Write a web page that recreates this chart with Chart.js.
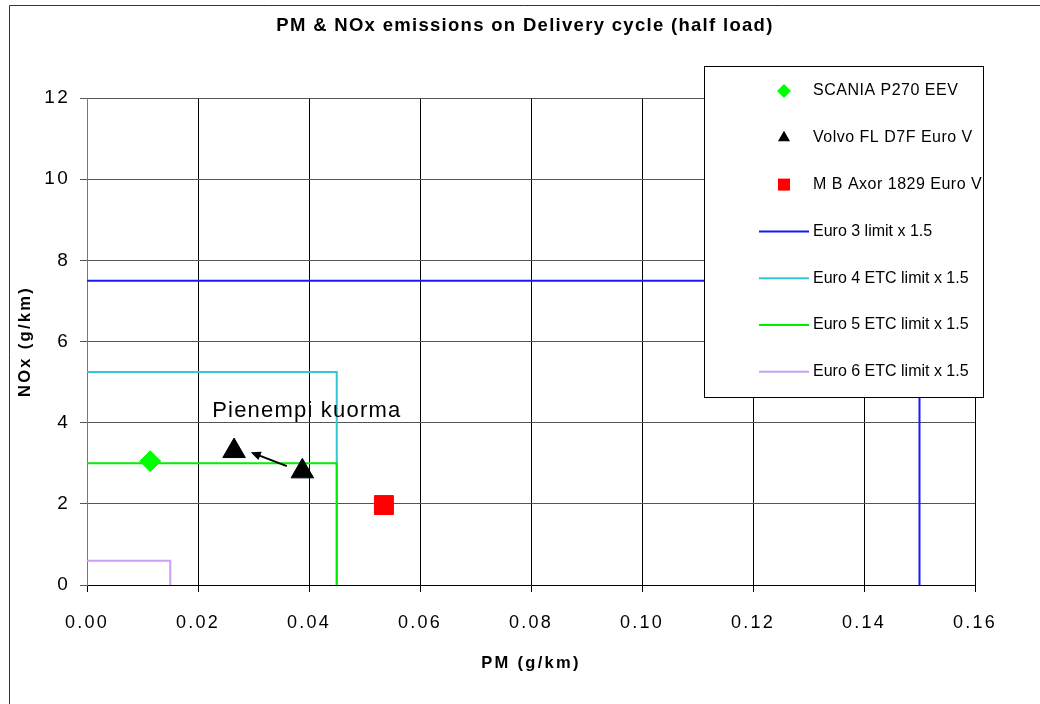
<!DOCTYPE html>
<html>
<head>
<meta charset="utf-8">
<script src="https://cdn.jsdelivr.net/npm/chart.js@4.4.1/dist/chart.umd.min.js"></script>
<style>
  html, body { margin: 0; padding: 0; background: #fff; }
  #wrap { width: 1040px; height: 704px; position: relative; }
</style>
</head>
<body>
<div id="wrap"><canvas id="chart"></canvas></div>
<script>
// --- data ---
const chartTitle = 'PM & NOx emissions on Delivery cycle (half load)';
const xTitle = 'PM (g/km)';
const yTitle = 'NOx (g/km)';

const xMin = 0, xMax = 0.16, xStep = 0.02;
const yMin = 0, yMax = 12, yStep = 2;

const scaniaLabel = 'SCANIA P270 EEV';
const scaniaPm = [0.0114];
const scaniaNox = [3.05];

const volvoLabel = 'Volvo FL D7F Euro V';
const volvoPm = [0.0265, 0.0388];
const volvoNox = [3.3, 2.8];

const mbLabel = 'M B Axor 1829 Euro V';
const mbPm = [0.0535];
const mbNox = [1.97];

// limit lines (NOx horizontal then PM vertical)
const euro3Label = 'Euro 3 limit x 1.5';
const euro3Pm = [0, 0.15, 0.15];
const euro3Nox = [7.5, 7.5, 0];

const euro4Label = 'Euro 4 ETC limit x 1.5';
const euro4Pm = [0, 0.045, 0.045];
const euro4Nox = [5.25, 5.25, 0];

const euro5Label = 'Euro 5 ETC limit x 1.5';
const euro5Pm = [0, 0.045, 0.045];
const euro5Nox = [3.0, 3.0, 0];

const euro6Label = 'Euro 6 ETC limit x 1.5';
const euro6Pm = [0, 0.015, 0.015];
const euro6Nox = [0.6, 0.6, 0];

// annotation
const noteText = 'Pienempi kuorma';
const notePos = [0.0396, 4.3];
const arrowFrom = [0.036, 2.93];
const arrowTo = [0.0295, 3.27];

function toPoints(xs, ys) {
    return xs.map((x, i) => ({ x: x, y: ys[i] }));
}

const FONT = 'Arial, "Liberation Sans", sans-serif';

// order: lower number is painted on top
const datasets = [
    { label: scaniaLabel, data: toPoints(scaniaPm, scaniaNox), pointStyle: 'rectRot', pointRadius: 10.5,
      backgroundColor: '#00ff00', borderColor: '#00ff00', showLine: false, legendKind: 'point', order: 0 },
    { label: volvoLabel, data: toPoints(volvoPm, volvoNox), pointStyle: 'triangle', pointRadius: 13,
      backgroundColor: '#000000', borderColor: '#000000', showLine: false, legendKind: 'point', order: 0 },
    { label: mbLabel, data: toPoints(mbPm, mbNox), pointStyle: 'rect', pointRadius: 13.4,
      backgroundColor: '#ff0000', borderColor: '#ff0000', showLine: false, legendKind: 'point', order: 0 },
    { label: euro3Label, data: toPoints(euro3Pm, euro3Nox), showLine: true, pointRadius: 0,
      borderColor: '#1a1aee', borderWidth: 2, legendKind: 'line', order: 2 },
    { label: euro4Label, data: toPoints(euro4Pm, euro4Nox), showLine: true, pointRadius: 0,
      borderColor: '#33c6d6', borderWidth: 2, legendKind: 'line', order: 2 },
    { label: euro5Label, data: toPoints(euro5Pm, euro5Nox), showLine: true, pointRadius: 0,
      borderColor: '#00ee00', borderWidth: 2, legendKind: 'line', order: 1 },
    { label: euro6Label, data: toPoints(euro6Pm, euro6Nox), showLine: true, pointRadius: 0,
      borderColor: '#c8a0f5', borderWidth: 2, legendKind: 'line', order: 1 }
];

function markerPath(ctx, style, x, y, r) {
    ctx.beginPath();
    if (style === 'rectRot') {
        ctx.moveTo(x, y - r); ctx.lineTo(x + r, y); ctx.lineTo(x, y + r); ctx.lineTo(x - r, y);
    } else if (style === 'triangle') {
        ctx.moveTo(x, y - r); ctx.lineTo(x + r * 0.866, y + r / 2); ctx.lineTo(x - r * 0.866, y + r / 2);
    } else {
        const s = r * Math.SQRT1_2;
        ctx.rect(x - s, y - s, 2 * s, 2 * s);
    }
    ctx.closePath();
}

const decorPlugin = {
    id: 'decor',
    beforeDraw(chart) {
        const ctx = chart.ctx;
        ctx.save();
        ctx.fillStyle = '#fff';
        ctx.fillRect(0, 0, chart.width, chart.height);
        // outer frame of the chart
        ctx.strokeStyle = '#333';
        ctx.lineWidth = 1;
        ctx.beginPath();
        ctx.moveTo(9.5, chart.height);
        ctx.lineTo(9.5, 5.5);
        ctx.lineTo(chart.width, 5.5);
        ctx.stroke();
        ctx.restore();
        // the original axis text is widely spaced
        ctx.letterSpacing = '2.3px';
    },
    beforeDatasetsDraw(chart) {
        chart.ctx.letterSpacing = '0px';
    },
    afterDatasetsDraw(chart) {
        const ctx = chart.ctx;
        const xs = chart.scales.x, ys = chart.scales.y;
        ctx.save();
        // arrow
        const x1 = xs.getPixelForValue(arrowFrom[0]), y1 = ys.getPixelForValue(arrowFrom[1]);
        const x2 = xs.getPixelForValue(arrowTo[0]), y2 = ys.getPixelForValue(arrowTo[1]);
        const ang = Math.atan2(y2 - y1, x2 - x1);
        ctx.strokeStyle = '#000';
        ctx.fillStyle = '#000';
        ctx.lineWidth = 2;
        ctx.beginPath();
        ctx.moveTo(x1, y1);
        ctx.lineTo(x2 - 6 * Math.cos(ang), y2 - 6 * Math.sin(ang));
        ctx.stroke();
        ctx.beginPath();
        ctx.moveTo(x2, y2);
        ctx.lineTo(x2 - 10 * Math.cos(ang) + 4.5 * Math.sin(ang), y2 - 10 * Math.sin(ang) - 4.5 * Math.cos(ang));
        ctx.lineTo(x2 - 10 * Math.cos(ang) - 4.5 * Math.sin(ang), y2 - 10 * Math.sin(ang) + 4.5 * Math.cos(ang));
        ctx.closePath();
        ctx.fill();
        // text note
        ctx.font = '22px ' + FONT;
        ctx.letterSpacing = '1.2px';
        ctx.textAlign = 'center';
        ctx.textBaseline = 'middle';
        ctx.fillText(noteText, xs.getPixelForValue(notePos[0]), ys.getPixelForValue(notePos[1]));
        ctx.restore();
    },
    afterDraw(chart) {
        const ctx = chart.ctx;
        ctx.save();
        // chart title
        ctx.fillStyle = '#000';
        ctx.font = 'bold 18.5px ' + FONT;
        ctx.letterSpacing = '1.3px';
        ctx.textAlign = 'center';
        ctx.textBaseline = 'middle';
        ctx.fillText(chartTitle, 525, 26);

        // legend box
        const lx = 704.5, ly = 66.5, lw = 279, lh = 331;
        ctx.fillStyle = '#fff';
        ctx.fillRect(lx, ly, lw, lh);
        ctx.strokeStyle = '#000';
        ctx.lineWidth = 1;
        ctx.strokeRect(lx, ly, lw, lh);

        ctx.textAlign = 'left';
        chart.data.datasets.forEach((ds, i) => {
            const cy = 91 + i * 46.8;
            if (ds.legendKind === 'point') {
                ctx.fillStyle = ds.backgroundColor;
                markerPath(ctx, ds.pointStyle, 784, cy, ds.pointStyle === 'rect' ? 8.5 : 7);
                ctx.fill();
                ctx.font = '16px ' + FONT;
                ctx.letterSpacing = '0.5px';
            } else {
                ctx.strokeStyle = ds.borderColor;
                ctx.lineWidth = 2;
                ctx.beginPath();
                ctx.moveTo(759, cy);
                ctx.lineTo(809, cy);
                ctx.stroke();
                ctx.font = '16px ' + FONT;
                ctx.letterSpacing = '0px';
            }
            ctx.fillStyle = '#000';
            ctx.fillText(ds.label, 813, cy);
        });
        ctx.restore();
    }
};

new Chart(document.getElementById('chart'), {
    type: 'scatter',
    data: { datasets: datasets },
    options: {
        responsive: true,
        maintainAspectRatio: false,
        animation: false,
        devicePixelRatio: 1,
        layout: { padding: { top: 98, right: 65, bottom: 0, left: 0 } },
        plugins: {
            legend: { display: false },
            title: { display: false },
            tooltip: { enabled: false }
        },
        scales: {
            x: {
                type: 'linear',
                min: xMin, max: xMax,
                afterFit(s) { s.height = 119; },
                ticks: {
                    stepSize: xStep,
                    maxRotation: 0,
                    autoSkip: false,
                    padding: 20,
                    color: '#000',
                    font: { size: 18, family: FONT },
                    callback: v => v.toFixed(2)
                },
                grid: { color: '#000', tickLength: 7 },
                border: { color: '#000' },
                title: {
                    display: true, text: xTitle, color: '#000',
                    font: { size: 16.5, weight: 'bold', family: FONT },
                    padding: { top: 0, bottom: 31 }
                }
            },
            y: {
                type: 'linear',
                min: yMin, max: yMax,
                afterFit(s) { s.width = 87; },
                ticks: {
                    stepSize: yStep,
                    padding: 10,
                    color: '#000',
                    font: { size: 19, family: FONT }
                },
                grid: { color: '#555', tickLength: 7 },
                border: { color: '#777' },
                title: {
                    display: true, text: yTitle, color: '#000',
                    font: { size: 16.5, weight: 'bold', family: FONT },
                    padding: { top: 16, bottom: 0 }
                }
            }
        }
    },
    plugins: [decorPlugin]
});
</script>
</body>
</html>
